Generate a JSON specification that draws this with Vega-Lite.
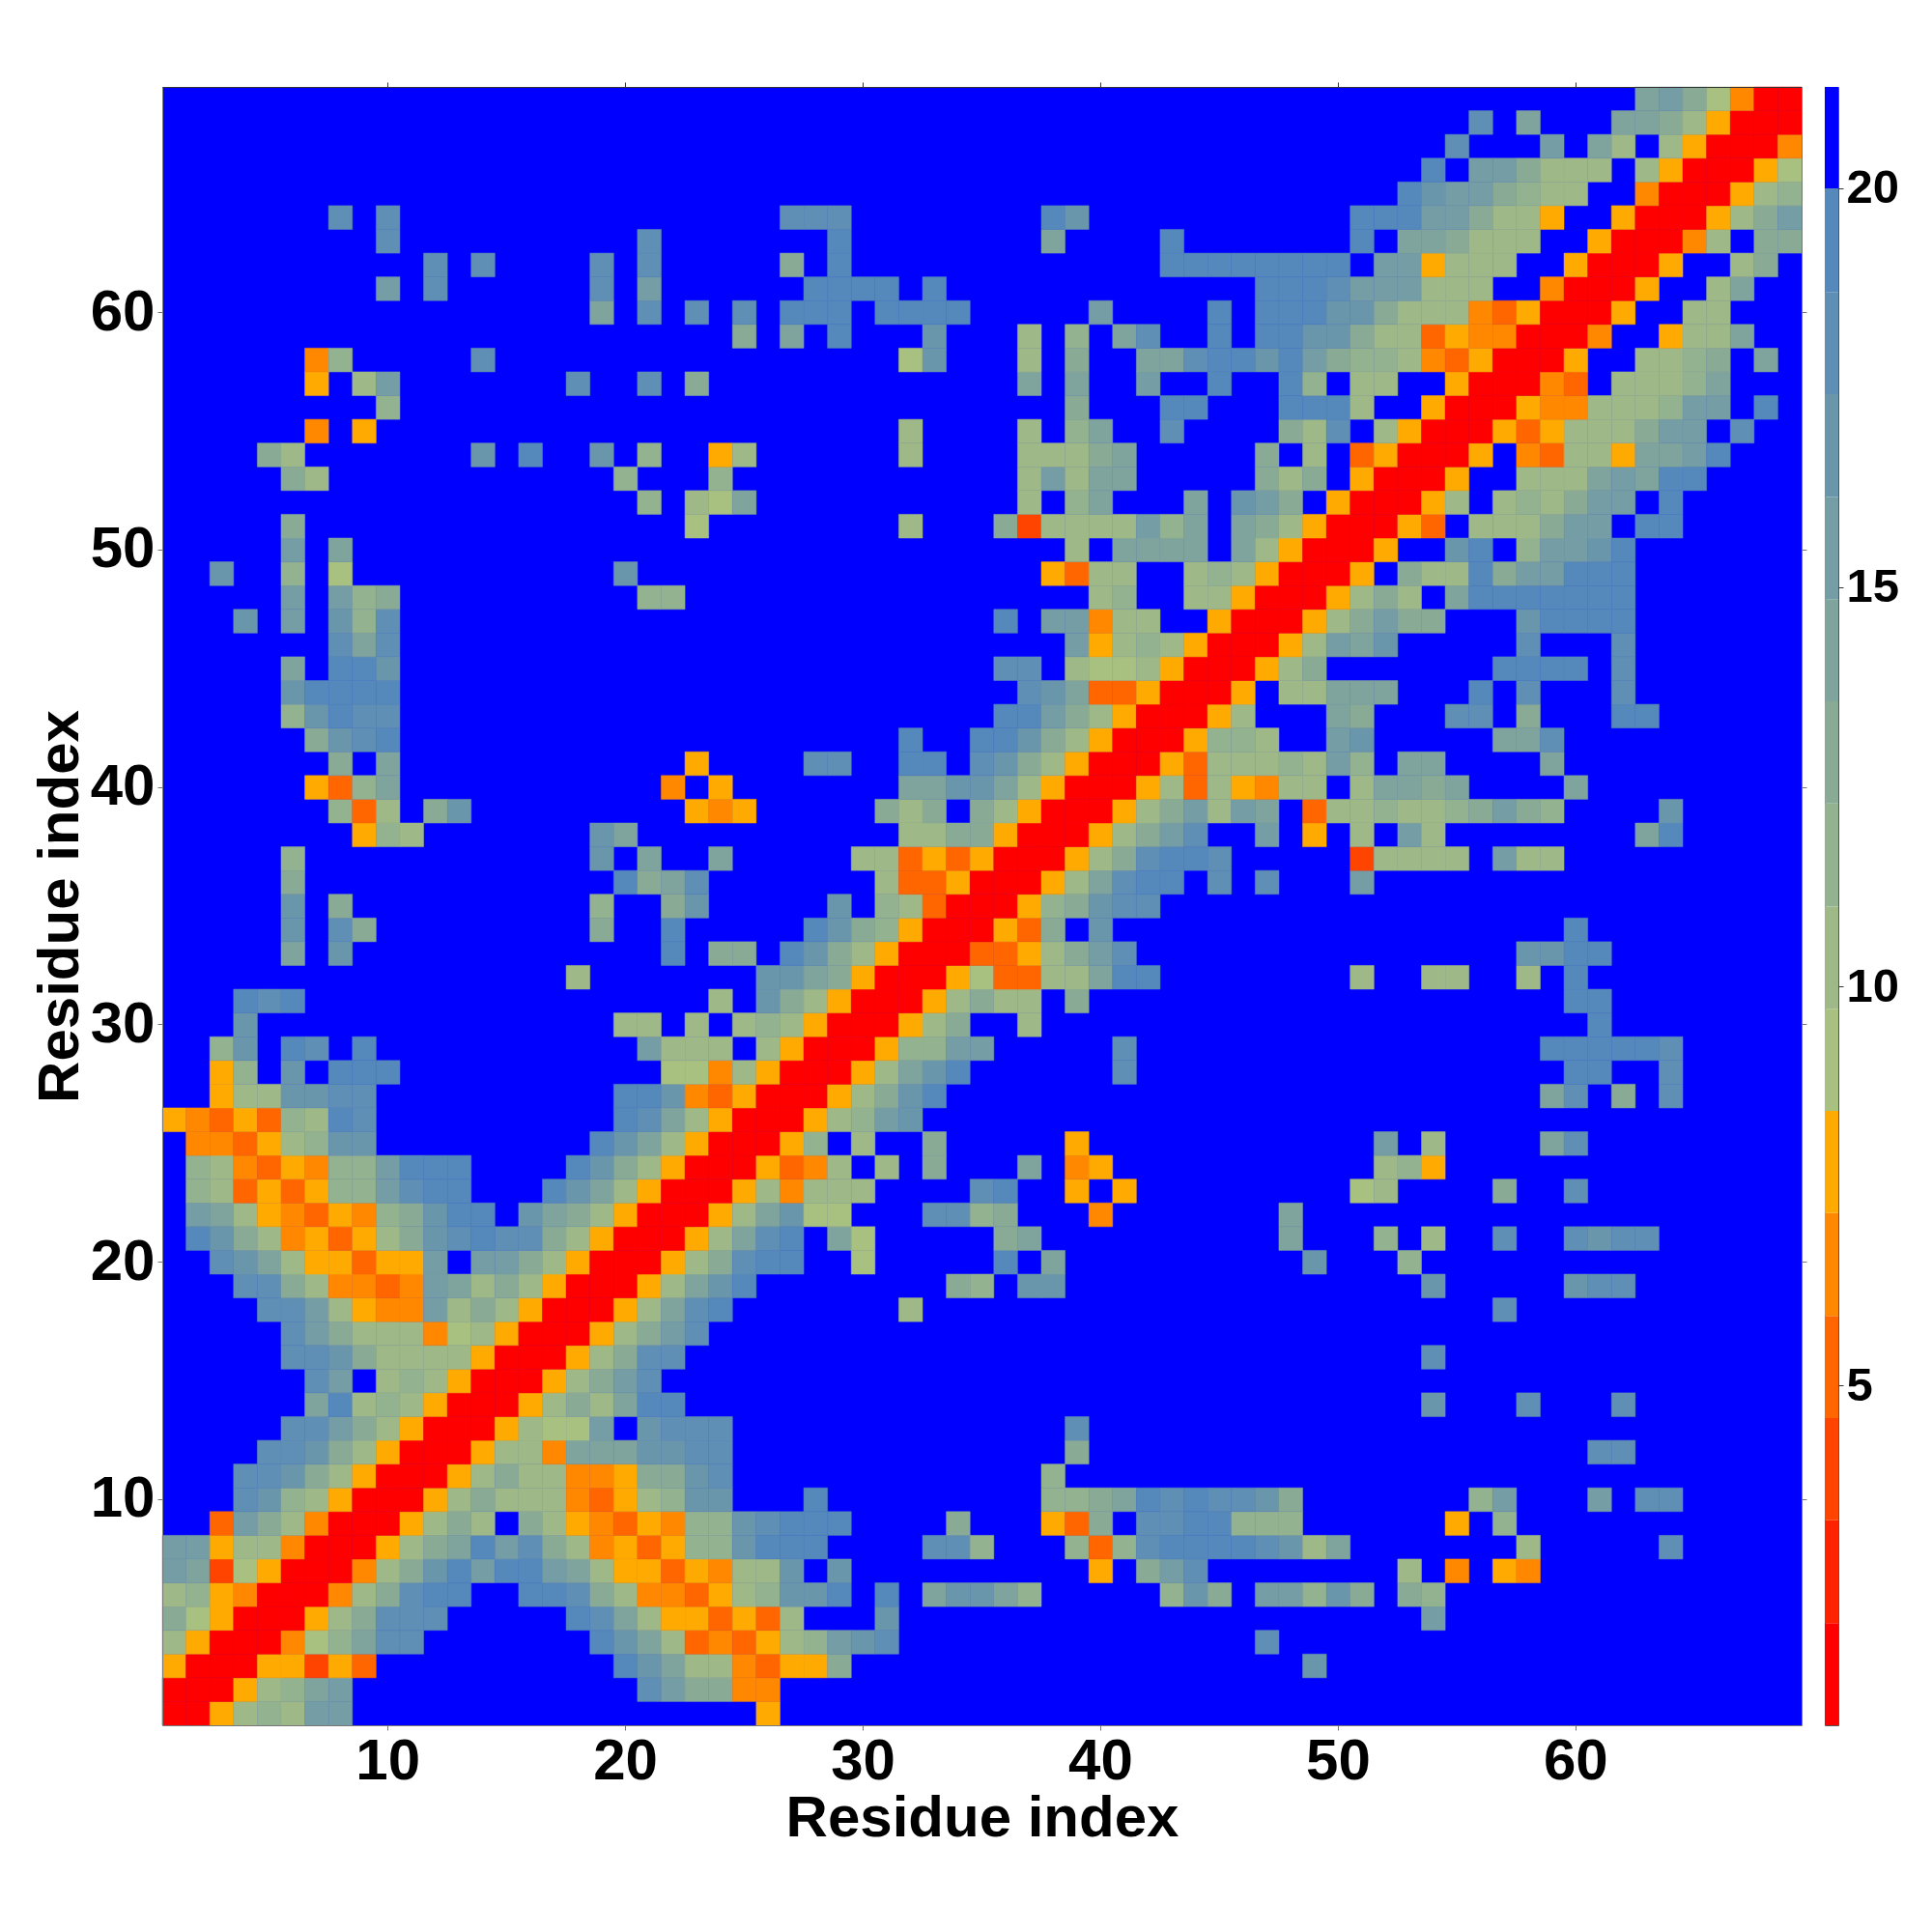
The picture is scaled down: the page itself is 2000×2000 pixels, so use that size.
{"$schema":"https://vega.github.io/schema/vega-lite/v6.json","padding":{"left":32,"top":84,"right":0,"bottom":0},"background":"white","bounds":"flush","spacing":24,"config":{"view":{"stroke":null},"axis":{"labelFont":"Liberation Sans","titleFont":"Liberation Sans","labelFontWeight":"bold","titleFontWeight":"bold","labelColor":"black","titleColor":"black","grid":false}},
"datasets":{"cells":[
{"i":1,"j":1,"d":1.4},{"i":2,"j":1,"d":1.4},{"i":3,"j":1,"d":7.8},{"i":4,"j":1,"d":10.4},{"i":5,"j":1,"d":11.6},{"i":6,"j":1,"d":10.4},{"i":7,"j":1,"d":15.5},{"i":8,"j":1,"d":15.5},{"i":26,"j":1,"d":7.8},
{"i":1,"j":2,"d":1.4},{"i":2,"j":2,"d":1.4},{"i":3,"j":2,"d":1.4},{"i":4,"j":2,"d":7.8},{"i":5,"j":2,"d":10.4},{"i":6,"j":2,"d":11.6},{"i":7,"j":2,"d":14.2},{"i":8,"j":2,"d":15.5},{"i":21,"j":2,"d":18},{"i":22,"j":2,"d":15.5},{"i":23,"j":2,"d":12.9},{"i":24,"j":2,"d":12.9},{"i":25,"j":2,"d":6.5},{"i":26,"j":2,"d":6.5},
{"i":1,"j":3,"d":7.8},{"i":2,"j":3,"d":1.4},{"i":3,"j":3,"d":1.4},{"i":4,"j":3,"d":1.4},{"i":5,"j":3,"d":7.8},{"i":6,"j":3,"d":7.8},{"i":7,"j":3,"d":4},{"i":8,"j":3,"d":7.8},{"i":9,"j":3,"d":5.2},{"i":20,"j":3,"d":19.3},{"i":21,"j":3,"d":16.8},{"i":22,"j":3,"d":14.2},{"i":23,"j":3,"d":10.4},{"i":24,"j":3,"d":10.4},{"i":25,"j":3,"d":6.5},{"i":26,"j":3,"d":5.2},{"i":27,"j":3,"d":7.8},{"i":28,"j":3,"d":7.8},{"i":29,"j":3,"d":12.9},{"i":49,"j":3,"d":16.8},
{"i":1,"j":4,"d":10.4},{"i":2,"j":4,"d":7.8},{"i":3,"j":4,"d":1.4},{"i":4,"j":4,"d":1.4},{"i":5,"j":4,"d":1.4},{"i":6,"j":4,"d":6.5},{"i":7,"j":4,"d":9.1},{"i":8,"j":4,"d":11.6},{"i":9,"j":4,"d":14.2},{"i":10,"j":4,"d":18},{"i":11,"j":4,"d":18},{"i":19,"j":4,"d":19.3},{"i":20,"j":4,"d":16.8},{"i":21,"j":4,"d":14.2},{"i":22,"j":4,"d":10.4},{"i":23,"j":4,"d":5.2},{"i":24,"j":4,"d":6.5},{"i":25,"j":4,"d":5.2},{"i":26,"j":4,"d":7.8},{"i":27,"j":4,"d":10.4},{"i":28,"j":4,"d":11.6},{"i":29,"j":4,"d":15.5},{"i":30,"j":4,"d":16.8},{"i":31,"j":4,"d":18},{"i":47,"j":4,"d":18},
{"i":1,"j":5,"d":12.9},{"i":2,"j":5,"d":9.1},{"i":3,"j":5,"d":7.8},{"i":4,"j":5,"d":1.4},{"i":5,"j":5,"d":1.4},{"i":6,"j":5,"d":1.4},{"i":7,"j":5,"d":7.8},{"i":8,"j":5,"d":10.4},{"i":9,"j":5,"d":12.9},{"i":10,"j":5,"d":18},{"i":11,"j":5,"d":18},{"i":12,"j":5,"d":18},{"i":18,"j":5,"d":19.3},{"i":19,"j":5,"d":18},{"i":20,"j":5,"d":14.2},{"i":21,"j":5,"d":10.4},{"i":22,"j":5,"d":7.8},{"i":23,"j":5,"d":7.8},{"i":24,"j":5,"d":5.2},{"i":25,"j":5,"d":7.8},{"i":26,"j":5,"d":5.2},{"i":27,"j":5,"d":10.4},{"i":31,"j":5,"d":16.8},{"i":54,"j":5,"d":15.5},
{"i":1,"j":6,"d":10.4},{"i":2,"j":6,"d":11.6},{"i":3,"j":6,"d":7.8},{"i":4,"j":6,"d":6.5},{"i":5,"j":6,"d":1.4},{"i":6,"j":6,"d":1.4},{"i":7,"j":6,"d":1.4},{"i":8,"j":6,"d":6.5},{"i":9,"j":6,"d":10.4},{"i":10,"j":6,"d":12.9},{"i":11,"j":6,"d":18},{"i":12,"j":6,"d":19.3},{"i":13,"j":6,"d":19.3},{"i":16,"j":6,"d":19.3},{"i":17,"j":6,"d":19.3},{"i":18,"j":6,"d":18},{"i":19,"j":6,"d":12.9},{"i":20,"j":6,"d":10.4},{"i":21,"j":6,"d":6.5},{"i":22,"j":6,"d":6.5},{"i":23,"j":6,"d":5.2},{"i":24,"j":6,"d":7.8},{"i":25,"j":6,"d":10.4},{"i":26,"j":6,"d":11.6},{"i":27,"j":6,"d":16.8},{"i":28,"j":6,"d":16.8},{"i":29,"j":6,"d":19.3},{"i":31,"j":6,"d":19.3},{"i":33,"j":6,"d":14.2},{"i":34,"j":6,"d":16.8},{"i":35,"j":6,"d":16.8},{"i":36,"j":6,"d":14.2},{"i":37,"j":6,"d":11.6},{"i":43,"j":6,"d":11.6},{"i":44,"j":6,"d":16.8},{"i":45,"j":6,"d":12.9},{"i":47,"j":6,"d":15.5},{"i":48,"j":6,"d":15.5},{"i":49,"j":6,"d":11.6},{"i":50,"j":6,"d":16.8},{"i":51,"j":6,"d":12.9},{"i":53,"j":6,"d":12.9},{"i":54,"j":6,"d":11.6},
{"i":1,"j":7,"d":15.5},{"i":2,"j":7,"d":14.2},{"i":3,"j":7,"d":4},{"i":4,"j":7,"d":9.1},{"i":5,"j":7,"d":7.8},{"i":6,"j":7,"d":1.4},{"i":7,"j":7,"d":1.4},{"i":8,"j":7,"d":1.4},{"i":9,"j":7,"d":6.5},{"i":10,"j":7,"d":10.4},{"i":11,"j":7,"d":12.9},{"i":12,"j":7,"d":16.8},{"i":13,"j":7,"d":19.3},{"i":14,"j":7,"d":15.5},{"i":15,"j":7,"d":19.3},{"i":16,"j":7,"d":19.3},{"i":17,"j":7,"d":15.5},{"i":18,"j":7,"d":14.2},{"i":19,"j":7,"d":10.4},{"i":20,"j":7,"d":7.8},{"i":21,"j":7,"d":7.8},{"i":22,"j":7,"d":5.2},{"i":23,"j":7,"d":7.8},{"i":24,"j":7,"d":6.5},{"i":25,"j":7,"d":10.4},{"i":26,"j":7,"d":10.4},{"i":27,"j":7,"d":16.8},{"i":29,"j":7,"d":16.8},{"i":40,"j":7,"d":7.8},{"i":42,"j":7,"d":12.9},{"i":43,"j":7,"d":15.5},{"i":44,"j":7,"d":18},{"i":53,"j":7,"d":10.4},{"i":55,"j":7,"d":6.5},{"i":57,"j":7,"d":7.8},{"i":58,"j":7,"d":6.5},
{"i":1,"j":8,"d":15.5},{"i":2,"j":8,"d":15.5},{"i":3,"j":8,"d":7.8},{"i":4,"j":8,"d":10.4},{"i":5,"j":8,"d":10.4},{"i":6,"j":8,"d":6.5},{"i":7,"j":8,"d":1.4},{"i":8,"j":8,"d":1.4},{"i":9,"j":8,"d":1.4},{"i":10,"j":8,"d":7.8},{"i":11,"j":8,"d":10.4},{"i":12,"j":8,"d":12.9},{"i":13,"j":8,"d":14.2},{"i":14,"j":8,"d":19.3},{"i":15,"j":8,"d":15.5},{"i":16,"j":8,"d":18},{"i":17,"j":8,"d":12.9},{"i":18,"j":8,"d":10.4},{"i":19,"j":8,"d":6.5},{"i":20,"j":8,"d":7.8},{"i":21,"j":8,"d":5.2},{"i":22,"j":8,"d":7.8},{"i":23,"j":8,"d":11.6},{"i":24,"j":8,"d":11.6},{"i":25,"j":8,"d":16.8},{"i":26,"j":8,"d":19.3},{"i":27,"j":8,"d":19.3},{"i":28,"j":8,"d":19.3},{"i":33,"j":8,"d":18},{"i":34,"j":8,"d":18},{"i":35,"j":8,"d":11.6},{"i":39,"j":8,"d":11.6},{"i":40,"j":8,"d":5.2},{"i":41,"j":8,"d":11.6},{"i":42,"j":8,"d":18},{"i":43,"j":8,"d":19.3},{"i":44,"j":8,"d":19.3},{"i":45,"j":8,"d":19.3},{"i":46,"j":8,"d":19.3},{"i":47,"j":8,"d":18},{"i":48,"j":8,"d":16.8},{"i":49,"j":8,"d":10.4},{"i":50,"j":8,"d":14.2},{"i":58,"j":8,"d":10.4},{"i":64,"j":8,"d":18},
{"i":3,"j":9,"d":5.2},{"i":4,"j":9,"d":15.5},{"i":5,"j":9,"d":12.9},{"i":6,"j":9,"d":10.4},{"i":7,"j":9,"d":6.5},{"i":8,"j":9,"d":1.4},{"i":9,"j":9,"d":1.4},{"i":10,"j":9,"d":1.4},{"i":11,"j":9,"d":7.8},{"i":12,"j":9,"d":10.4},{"i":13,"j":9,"d":12.9},{"i":14,"j":9,"d":10.4},{"i":16,"j":9,"d":12.9},{"i":17,"j":9,"d":10.4},{"i":18,"j":9,"d":7.8},{"i":19,"j":9,"d":6.5},{"i":20,"j":9,"d":5.2},{"i":21,"j":9,"d":7.8},{"i":22,"j":9,"d":6.5},{"i":23,"j":9,"d":11.6},{"i":24,"j":9,"d":11.6},{"i":25,"j":9,"d":16.8},{"i":26,"j":9,"d":18},{"i":27,"j":9,"d":19.3},{"i":28,"j":9,"d":19.3},{"i":29,"j":9,"d":19.3},{"i":34,"j":9,"d":12.9},{"i":38,"j":9,"d":7.8},{"i":39,"j":9,"d":5.2},{"i":40,"j":9,"d":12.9},{"i":42,"j":9,"d":18},{"i":43,"j":9,"d":18},{"i":44,"j":9,"d":19.3},{"i":45,"j":9,"d":19.3},{"i":46,"j":9,"d":11.6},{"i":47,"j":9,"d":11.6},{"i":48,"j":9,"d":11.6},{"i":55,"j":9,"d":7.8},{"i":57,"j":9,"d":11.6},
{"i":4,"j":10,"d":18},{"i":5,"j":10,"d":16.8},{"i":6,"j":10,"d":11.6},{"i":7,"j":10,"d":10.4},{"i":8,"j":10,"d":7.8},{"i":9,"j":10,"d":1.4},{"i":10,"j":10,"d":1.4},{"i":11,"j":10,"d":1.4},{"i":12,"j":10,"d":7.8},{"i":13,"j":10,"d":10.4},{"i":14,"j":10,"d":12.9},{"i":15,"j":10,"d":10.4},{"i":16,"j":10,"d":10.4},{"i":17,"j":10,"d":10.4},{"i":18,"j":10,"d":6.5},{"i":19,"j":10,"d":5.2},{"i":20,"j":10,"d":7.8},{"i":21,"j":10,"d":10.4},{"i":22,"j":10,"d":11.6},{"i":23,"j":10,"d":16.8},{"i":24,"j":10,"d":16.8},{"i":28,"j":10,"d":19.3},{"i":38,"j":10,"d":11.6},{"i":39,"j":10,"d":11.6},{"i":40,"j":10,"d":12.9},{"i":41,"j":10,"d":14.2},{"i":42,"j":10,"d":19.3},{"i":43,"j":10,"d":18},{"i":44,"j":10,"d":19.3},{"i":45,"j":10,"d":18},{"i":46,"j":10,"d":18},{"i":47,"j":10,"d":16.8},{"i":48,"j":10,"d":12.9},{"i":56,"j":10,"d":11.6},{"i":57,"j":10,"d":15.5},{"i":61,"j":10,"d":15.5},{"i":63,"j":10,"d":18},{"i":64,"j":10,"d":18},
{"i":4,"j":11,"d":18},{"i":5,"j":11,"d":18},{"i":6,"j":11,"d":16.8},{"i":7,"j":11,"d":12.9},{"i":8,"j":11,"d":10.4},{"i":9,"j":11,"d":7.8},{"i":10,"j":11,"d":1.4},{"i":11,"j":11,"d":1.4},{"i":12,"j":11,"d":1.4},{"i":13,"j":11,"d":7.8},{"i":14,"j":11,"d":10.4},{"i":15,"j":11,"d":12.9},{"i":16,"j":11,"d":10.4},{"i":17,"j":11,"d":10.4},{"i":18,"j":11,"d":6.5},{"i":19,"j":11,"d":6.5},{"i":20,"j":11,"d":7.8},{"i":21,"j":11,"d":12.9},{"i":22,"j":11,"d":12.9},{"i":23,"j":11,"d":16.8},{"i":24,"j":11,"d":18},{"i":38,"j":11,"d":11.6},
{"i":5,"j":12,"d":18},{"i":6,"j":12,"d":18},{"i":7,"j":12,"d":16.8},{"i":8,"j":12,"d":12.9},{"i":9,"j":12,"d":10.4},{"i":10,"j":12,"d":7.8},{"i":11,"j":12,"d":1.4},{"i":12,"j":12,"d":1.4},{"i":13,"j":12,"d":1.4},{"i":14,"j":12,"d":7.8},{"i":15,"j":12,"d":10.4},{"i":16,"j":12,"d":10.4},{"i":17,"j":12,"d":6.5},{"i":18,"j":12,"d":14.2},{"i":19,"j":12,"d":14.2},{"i":20,"j":12,"d":14.2},{"i":21,"j":12,"d":16.8},{"i":22,"j":12,"d":16.8},{"i":23,"j":12,"d":18},{"i":24,"j":12,"d":18},{"i":39,"j":12,"d":12.9},{"i":61,"j":12,"d":18},{"i":62,"j":12,"d":18},
{"i":6,"j":13,"d":18},{"i":7,"j":13,"d":18},{"i":8,"j":13,"d":15.5},{"i":9,"j":13,"d":12.9},{"i":10,"j":13,"d":10.4},{"i":11,"j":13,"d":7.8},{"i":12,"j":13,"d":1.4},{"i":13,"j":13,"d":1.4},{"i":14,"j":13,"d":1.4},{"i":15,"j":13,"d":7.8},{"i":16,"j":13,"d":10.4},{"i":17,"j":13,"d":9.1},{"i":18,"j":13,"d":9.1},{"i":19,"j":13,"d":15.5},{"i":21,"j":13,"d":16.8},{"i":22,"j":13,"d":18},{"i":23,"j":13,"d":18},{"i":24,"j":13,"d":18},{"i":39,"j":13,"d":18},
{"i":7,"j":14,"d":14.2},{"i":8,"j":14,"d":19.3},{"i":9,"j":14,"d":10.4},{"i":10,"j":14,"d":11.6},{"i":11,"j":14,"d":10.4},{"i":12,"j":14,"d":7.8},{"i":13,"j":14,"d":1.4},{"i":14,"j":14,"d":1.4},{"i":15,"j":14,"d":1.4},{"i":16,"j":14,"d":7.8},{"i":17,"j":14,"d":10.4},{"i":18,"j":14,"d":12.9},{"i":19,"j":14,"d":10.4},{"i":20,"j":14,"d":14.2},{"i":21,"j":14,"d":19.3},{"i":22,"j":14,"d":19.3},{"i":54,"j":14,"d":16.8},{"i":58,"j":14,"d":18},{"i":62,"j":14,"d":18},
{"i":7,"j":15,"d":18},{"i":8,"j":15,"d":15.5},{"i":10,"j":15,"d":10.4},{"i":11,"j":15,"d":11.6},{"i":12,"j":15,"d":10.4},{"i":13,"j":15,"d":7.8},{"i":14,"j":15,"d":1.4},{"i":15,"j":15,"d":1.4},{"i":16,"j":15,"d":1.4},{"i":17,"j":15,"d":7.8},{"i":18,"j":15,"d":10.4},{"i":19,"j":15,"d":12.9},{"i":20,"j":15,"d":15.5},{"i":21,"j":15,"d":18},
{"i":6,"j":16,"d":18},{"i":7,"j":16,"d":18},{"i":8,"j":16,"d":16.8},{"i":9,"j":16,"d":12.9},{"i":10,"j":16,"d":10.4},{"i":11,"j":16,"d":10.4},{"i":12,"j":16,"d":10.4},{"i":13,"j":16,"d":10.4},{"i":14,"j":16,"d":7.8},{"i":15,"j":16,"d":1.4},{"i":16,"j":16,"d":1.4},{"i":17,"j":16,"d":1.4},{"i":18,"j":16,"d":7.8},{"i":19,"j":16,"d":10.4},{"i":20,"j":16,"d":12.9},{"i":21,"j":16,"d":18},{"i":22,"j":16,"d":18},{"i":54,"j":16,"d":18},
{"i":6,"j":17,"d":18},{"i":7,"j":17,"d":15.5},{"i":8,"j":17,"d":12.9},{"i":9,"j":17,"d":10.4},{"i":10,"j":17,"d":10.4},{"i":11,"j":17,"d":10.4},{"i":12,"j":17,"d":6.5},{"i":13,"j":17,"d":9.1},{"i":14,"j":17,"d":10.4},{"i":15,"j":17,"d":7.8},{"i":16,"j":17,"d":1.4},{"i":17,"j":17,"d":1.4},{"i":18,"j":17,"d":1.4},{"i":19,"j":17,"d":7.8},{"i":20,"j":17,"d":10.4},{"i":21,"j":17,"d":12.9},{"i":22,"j":17,"d":15.5},{"i":23,"j":17,"d":18},
{"i":5,"j":18,"d":18},{"i":6,"j":18,"d":18},{"i":7,"j":18,"d":15.5},{"i":8,"j":18,"d":10.4},{"i":9,"j":18,"d":7.8},{"i":10,"j":18,"d":6.5},{"i":11,"j":18,"d":6.5},{"i":12,"j":18,"d":15.5},{"i":13,"j":18,"d":10.4},{"i":14,"j":18,"d":12.9},{"i":15,"j":18,"d":10.4},{"i":16,"j":18,"d":7.8},{"i":17,"j":18,"d":1.4},{"i":18,"j":18,"d":1.4},{"i":19,"j":18,"d":1.4},{"i":20,"j":18,"d":7.8},{"i":21,"j":18,"d":10.4},{"i":22,"j":18,"d":14.2},{"i":23,"j":18,"d":18},{"i":24,"j":18,"d":19.3},{"i":32,"j":18,"d":10.4},{"i":57,"j":18,"d":18},
{"i":4,"j":19,"d":18},{"i":5,"j":19,"d":18},{"i":6,"j":19,"d":12.9},{"i":7,"j":19,"d":10.4},{"i":8,"j":19,"d":6.5},{"i":9,"j":19,"d":6.5},{"i":10,"j":19,"d":5.2},{"i":11,"j":19,"d":6.5},{"i":12,"j":19,"d":15.5},{"i":13,"j":19,"d":14.2},{"i":14,"j":19,"d":10.4},{"i":15,"j":19,"d":12.9},{"i":16,"j":19,"d":10.4},{"i":17,"j":19,"d":7.8},{"i":18,"j":19,"d":1.4},{"i":19,"j":19,"d":1.4},{"i":20,"j":19,"d":1.4},{"i":21,"j":19,"d":7.8},{"i":22,"j":19,"d":10.4},{"i":23,"j":19,"d":14.2},{"i":24,"j":19,"d":16.8},{"i":25,"j":19,"d":19.3},{"i":34,"j":19,"d":12.9},{"i":35,"j":19,"d":11.6},{"i":37,"j":19,"d":16.8},{"i":38,"j":19,"d":16.8},{"i":54,"j":19,"d":16.8},{"i":60,"j":19,"d":16.8},{"i":61,"j":19,"d":18},{"i":62,"j":19,"d":18},
{"i":3,"j":20,"d":18},{"i":4,"j":20,"d":16.8},{"i":5,"j":20,"d":14.2},{"i":6,"j":20,"d":10.4},{"i":7,"j":20,"d":7.8},{"i":8,"j":20,"d":7.8},{"i":9,"j":20,"d":5.2},{"i":10,"j":20,"d":7.8},{"i":11,"j":20,"d":7.8},{"i":12,"j":20,"d":15.5},{"i":14,"j":20,"d":15.5},{"i":15,"j":20,"d":15.5},{"i":16,"j":20,"d":12.9},{"i":17,"j":20,"d":10.4},{"i":18,"j":20,"d":7.8},{"i":19,"j":20,"d":1.4},{"i":20,"j":20,"d":1.4},{"i":21,"j":20,"d":1.4},{"i":22,"j":20,"d":7.8},{"i":23,"j":20,"d":10.4},{"i":24,"j":20,"d":12.9},{"i":25,"j":20,"d":18},{"i":26,"j":20,"d":19.3},{"i":27,"j":20,"d":19.3},{"i":30,"j":20,"d":9.1},{"i":36,"j":20,"d":19.3},{"i":38,"j":20,"d":14.2},{"i":49,"j":20,"d":16.8},{"i":53,"j":20,"d":11.6},
{"i":2,"j":21,"d":19.3},{"i":3,"j":21,"d":16.8},{"i":4,"j":21,"d":12.9},{"i":5,"j":21,"d":10.4},{"i":6,"j":21,"d":6.5},{"i":7,"j":21,"d":7.8},{"i":8,"j":21,"d":5.2},{"i":9,"j":21,"d":7.8},{"i":10,"j":21,"d":10.4},{"i":11,"j":21,"d":12.9},{"i":12,"j":21,"d":16.8},{"i":13,"j":21,"d":18},{"i":14,"j":21,"d":19.3},{"i":15,"j":21,"d":18},{"i":16,"j":21,"d":18},{"i":17,"j":21,"d":12.9},{"i":18,"j":21,"d":10.4},{"i":19,"j":21,"d":7.8},{"i":20,"j":21,"d":1.4},{"i":21,"j":21,"d":1.4},{"i":22,"j":21,"d":1.4},{"i":23,"j":21,"d":7.8},{"i":24,"j":21,"d":10.4},{"i":25,"j":21,"d":14.2},{"i":26,"j":21,"d":18},{"i":27,"j":21,"d":19.3},{"i":29,"j":21,"d":14.2},{"i":30,"j":21,"d":9.1},{"i":36,"j":21,"d":12.9},{"i":37,"j":21,"d":14.2},{"i":48,"j":21,"d":14.2},{"i":52,"j":21,"d":11.6},{"i":54,"j":21,"d":10.4},{"i":57,"j":21,"d":18},{"i":60,"j":21,"d":18},{"i":61,"j":21,"d":16.8},{"i":62,"j":21,"d":18},{"i":63,"j":21,"d":18},
{"i":2,"j":22,"d":15.5},{"i":3,"j":22,"d":14.2},{"i":4,"j":22,"d":10.4},{"i":5,"j":22,"d":7.8},{"i":6,"j":22,"d":6.5},{"i":7,"j":22,"d":5.2},{"i":8,"j":22,"d":7.8},{"i":9,"j":22,"d":6.5},{"i":10,"j":22,"d":11.6},{"i":11,"j":22,"d":12.9},{"i":12,"j":22,"d":16.8},{"i":13,"j":22,"d":19.3},{"i":14,"j":22,"d":19.3},{"i":16,"j":22,"d":16.8},{"i":17,"j":22,"d":14.2},{"i":18,"j":22,"d":12.9},{"i":19,"j":22,"d":10.4},{"i":20,"j":22,"d":7.8},{"i":21,"j":22,"d":1.4},{"i":22,"j":22,"d":1.4},{"i":23,"j":22,"d":1.4},{"i":24,"j":22,"d":7.8},{"i":25,"j":22,"d":10.4},{"i":26,"j":22,"d":14.2},{"i":27,"j":22,"d":16.8},{"i":28,"j":22,"d":9.1},{"i":29,"j":22,"d":9.1},{"i":33,"j":22,"d":18},{"i":34,"j":22,"d":18},{"i":35,"j":22,"d":11.6},{"i":36,"j":22,"d":12.9},{"i":40,"j":22,"d":6.5},{"i":48,"j":22,"d":14.2},
{"i":2,"j":23,"d":11.6},{"i":3,"j":23,"d":10.4},{"i":4,"j":23,"d":5.2},{"i":5,"j":23,"d":7.8},{"i":6,"j":23,"d":5.2},{"i":7,"j":23,"d":7.8},{"i":8,"j":23,"d":11.6},{"i":9,"j":23,"d":11.6},{"i":10,"j":23,"d":15.5},{"i":11,"j":23,"d":18},{"i":12,"j":23,"d":19.3},{"i":13,"j":23,"d":19.3},{"i":17,"j":23,"d":19.3},{"i":18,"j":23,"d":16.8},{"i":19,"j":23,"d":14.2},{"i":20,"j":23,"d":10.4},{"i":21,"j":23,"d":7.8},{"i":22,"j":23,"d":1.4},{"i":23,"j":23,"d":1.4},{"i":24,"j":23,"d":1.4},{"i":25,"j":23,"d":7.8},{"i":26,"j":23,"d":10.4},{"i":27,"j":23,"d":6.5},{"i":28,"j":23,"d":10.4},{"i":29,"j":23,"d":10.4},{"i":30,"j":23,"d":10.4},{"i":35,"j":23,"d":18},{"i":36,"j":23,"d":19.3},{"i":39,"j":23,"d":7.8},{"i":41,"j":23,"d":7.8},{"i":51,"j":23,"d":9.1},{"i":52,"j":23,"d":10.4},{"i":57,"j":23,"d":12.9},{"i":60,"j":23,"d":18},
{"i":2,"j":24,"d":11.6},{"i":3,"j":24,"d":10.4},{"i":4,"j":24,"d":6.5},{"i":5,"j":24,"d":5.2},{"i":6,"j":24,"d":7.8},{"i":7,"j":24,"d":6.5},{"i":8,"j":24,"d":11.6},{"i":9,"j":24,"d":11.6},{"i":10,"j":24,"d":15.5},{"i":11,"j":24,"d":19.3},{"i":12,"j":24,"d":19.3},{"i":13,"j":24,"d":19.3},{"i":18,"j":24,"d":19.3},{"i":19,"j":24,"d":16.8},{"i":20,"j":24,"d":12.9},{"i":21,"j":24,"d":10.4},{"i":22,"j":24,"d":7.8},{"i":23,"j":24,"d":1.4},{"i":24,"j":24,"d":1.4},{"i":25,"j":24,"d":1.4},{"i":26,"j":24,"d":7.8},{"i":27,"j":24,"d":5.2},{"i":28,"j":24,"d":6.5},{"i":29,"j":24,"d":10.4},{"i":31,"j":24,"d":10.4},{"i":33,"j":24,"d":12.9},{"i":37,"j":24,"d":14.2},{"i":39,"j":24,"d":6.5},{"i":40,"j":24,"d":7.8},{"i":52,"j":24,"d":10.4},{"i":53,"j":24,"d":11.6},{"i":54,"j":24,"d":7.8},
{"i":2,"j":25,"d":6.5},{"i":3,"j":25,"d":6.5},{"i":4,"j":25,"d":5.2},{"i":5,"j":25,"d":7.8},{"i":6,"j":25,"d":10.4},{"i":7,"j":25,"d":11.6},{"i":8,"j":25,"d":16.8},{"i":9,"j":25,"d":16.8},{"i":19,"j":25,"d":19.3},{"i":20,"j":25,"d":16.8},{"i":21,"j":25,"d":14.2},{"i":22,"j":25,"d":10.4},{"i":23,"j":25,"d":7.8},{"i":24,"j":25,"d":1.4},{"i":25,"j":25,"d":1.4},{"i":26,"j":25,"d":1.4},{"i":27,"j":25,"d":7.8},{"i":28,"j":25,"d":11.6},{"i":30,"j":25,"d":10.4},{"i":33,"j":25,"d":12.9},{"i":39,"j":25,"d":7.8},{"i":52,"j":25,"d":15.5},{"i":54,"j":25,"d":10.4},{"i":59,"j":25,"d":14.2},{"i":60,"j":25,"d":18},
{"i":1,"j":26,"d":7.8},{"i":2,"j":26,"d":6.5},{"i":3,"j":26,"d":5.2},{"i":4,"j":26,"d":7.8},{"i":5,"j":26,"d":5.2},{"i":6,"j":26,"d":11.6},{"i":7,"j":26,"d":10.4},{"i":8,"j":26,"d":19.3},{"i":9,"j":26,"d":18},{"i":20,"j":26,"d":19.3},{"i":21,"j":26,"d":18},{"i":22,"j":26,"d":14.2},{"i":23,"j":26,"d":10.4},{"i":24,"j":26,"d":7.8},{"i":25,"j":26,"d":1.4},{"i":26,"j":26,"d":1.4},{"i":27,"j":26,"d":1.4},{"i":28,"j":26,"d":7.8},{"i":29,"j":26,"d":10.4},{"i":30,"j":26,"d":11.6},{"i":31,"j":26,"d":15.5},{"i":32,"j":26,"d":16.8},
{"i":3,"j":27,"d":7.8},{"i":4,"j":27,"d":10.4},{"i":5,"j":27,"d":10.4},{"i":6,"j":27,"d":16.8},{"i":7,"j":27,"d":16.8},{"i":8,"j":27,"d":18},{"i":9,"j":27,"d":18},{"i":20,"j":27,"d":19.3},{"i":21,"j":27,"d":19.3},{"i":22,"j":27,"d":16.8},{"i":23,"j":27,"d":6.5},{"i":24,"j":27,"d":5.2},{"i":25,"j":27,"d":7.8},{"i":26,"j":27,"d":1.4},{"i":27,"j":27,"d":1.4},{"i":28,"j":27,"d":1.4},{"i":29,"j":27,"d":7.8},{"i":30,"j":27,"d":10.4},{"i":31,"j":27,"d":12.9},{"i":32,"j":27,"d":16.8},{"i":33,"j":27,"d":19.3},{"i":59,"j":27,"d":14.2},{"i":60,"j":27,"d":18},{"i":62,"j":27,"d":12.9},{"i":64,"j":27,"d":18},
{"i":3,"j":28,"d":7.8},{"i":4,"j":28,"d":11.6},{"i":6,"j":28,"d":16.8},{"i":8,"j":28,"d":19.3},{"i":9,"j":28,"d":19.3},{"i":10,"j":28,"d":19.3},{"i":22,"j":28,"d":9.1},{"i":23,"j":28,"d":9.1},{"i":24,"j":28,"d":6.5},{"i":25,"j":28,"d":10.4},{"i":26,"j":28,"d":7.8},{"i":27,"j":28,"d":1.4},{"i":28,"j":28,"d":1.4},{"i":29,"j":28,"d":1.4},{"i":30,"j":28,"d":7.8},{"i":31,"j":28,"d":10.4},{"i":32,"j":28,"d":14.2},{"i":33,"j":28,"d":16.8},{"i":34,"j":28,"d":19.3},{"i":41,"j":28,"d":18},{"i":60,"j":28,"d":19.3},{"i":61,"j":28,"d":19.3},{"i":64,"j":28,"d":18},
{"i":3,"j":29,"d":11.6},{"i":4,"j":29,"d":16.8},{"i":6,"j":29,"d":19.3},{"i":7,"j":29,"d":18},{"i":9,"j":29,"d":19.3},{"i":21,"j":29,"d":15.5},{"i":22,"j":29,"d":10.4},{"i":23,"j":29,"d":10.4},{"i":24,"j":29,"d":10.4},{"i":26,"j":29,"d":10.4},{"i":27,"j":29,"d":7.8},{"i":28,"j":29,"d":1.4},{"i":29,"j":29,"d":1.4},{"i":30,"j":29,"d":1.4},{"i":31,"j":29,"d":7.8},{"i":32,"j":29,"d":11.6},{"i":33,"j":29,"d":11.6},{"i":34,"j":29,"d":15.5},{"i":35,"j":29,"d":15.5},{"i":41,"j":29,"d":18},{"i":59,"j":29,"d":19.3},{"i":60,"j":29,"d":19.3},{"i":61,"j":29,"d":19.3},{"i":62,"j":29,"d":19.3},{"i":63,"j":29,"d":19.3},{"i":64,"j":29,"d":18},
{"i":4,"j":30,"d":16.8},{"i":20,"j":30,"d":10.4},{"i":21,"j":30,"d":10.4},{"i":23,"j":30,"d":10.4},{"i":25,"j":30,"d":10.4},{"i":26,"j":30,"d":11.6},{"i":27,"j":30,"d":10.4},{"i":28,"j":30,"d":7.8},{"i":29,"j":30,"d":1.4},{"i":30,"j":30,"d":1.4},{"i":31,"j":30,"d":1.4},{"i":32,"j":30,"d":7.8},{"i":33,"j":30,"d":10.4},{"i":34,"j":30,"d":12.9},{"i":37,"j":30,"d":10.4},{"i":61,"j":30,"d":19.3},
{"i":4,"j":31,"d":19.3},{"i":5,"j":31,"d":18},{"i":6,"j":31,"d":19.3},{"i":24,"j":31,"d":10.4},{"i":26,"j":31,"d":16.8},{"i":27,"j":31,"d":12.9},{"i":28,"j":31,"d":10.4},{"i":29,"j":31,"d":7.8},{"i":30,"j":31,"d":1.4},{"i":31,"j":31,"d":1.4},{"i":32,"j":31,"d":1.4},{"i":33,"j":31,"d":7.8},{"i":34,"j":31,"d":10.4},{"i":35,"j":31,"d":12.9},{"i":36,"j":31,"d":10.4},{"i":37,"j":31,"d":10.4},{"i":39,"j":31,"d":12.9},{"i":60,"j":31,"d":19.3},{"i":61,"j":31,"d":19.3},
{"i":18,"j":32,"d":10.4},{"i":26,"j":32,"d":16.8},{"i":27,"j":32,"d":16.8},{"i":28,"j":32,"d":14.2},{"i":29,"j":32,"d":12.9},{"i":30,"j":32,"d":7.8},{"i":31,"j":32,"d":1.4},{"i":32,"j":32,"d":1.4},{"i":33,"j":32,"d":1.4},{"i":34,"j":32,"d":7.8},{"i":35,"j":32,"d":9.1},{"i":36,"j":32,"d":5.2},{"i":37,"j":32,"d":5.2},{"i":38,"j":32,"d":10.4},{"i":39,"j":32,"d":10.4},{"i":40,"j":32,"d":14.2},{"i":41,"j":32,"d":19.3},{"i":42,"j":32,"d":19.3},{"i":51,"j":32,"d":10.4},{"i":54,"j":32,"d":10.4},{"i":55,"j":32,"d":10.4},{"i":58,"j":32,"d":10.4},{"i":60,"j":32,"d":19.3},
{"i":6,"j":33,"d":14.2},{"i":8,"j":33,"d":16.8},{"i":22,"j":33,"d":19.3},{"i":24,"j":33,"d":12.9},{"i":25,"j":33,"d":12.9},{"i":27,"j":33,"d":19.3},{"i":28,"j":33,"d":16.8},{"i":29,"j":33,"d":12.9},{"i":30,"j":33,"d":10.4},{"i":31,"j":33,"d":7.8},{"i":32,"j":33,"d":1.4},{"i":33,"j":33,"d":1.4},{"i":34,"j":33,"d":1.4},{"i":35,"j":33,"d":5.2},{"i":36,"j":33,"d":5.2},{"i":37,"j":33,"d":7.8},{"i":38,"j":33,"d":10.4},{"i":39,"j":33,"d":12.9},{"i":40,"j":33,"d":15.5},{"i":41,"j":33,"d":18},{"i":58,"j":33,"d":16.8},{"i":59,"j":33,"d":16.8},{"i":60,"j":33,"d":19.3},{"i":61,"j":33,"d":19.3},
{"i":6,"j":34,"d":16.8},{"i":8,"j":34,"d":18},{"i":9,"j":34,"d":12.9},{"i":19,"j":34,"d":12.9},{"i":22,"j":34,"d":19.3},{"i":28,"j":34,"d":19.3},{"i":29,"j":34,"d":16.8},{"i":30,"j":34,"d":12.9},{"i":31,"j":34,"d":11.6},{"i":32,"j":34,"d":7.8},{"i":33,"j":34,"d":1.4},{"i":34,"j":34,"d":1.4},{"i":35,"j":34,"d":1.4},{"i":36,"j":34,"d":7.8},{"i":37,"j":34,"d":5.2},{"i":38,"j":34,"d":12.9},{"i":40,"j":34,"d":16.8},{"i":60,"j":34,"d":19.3},
{"i":6,"j":35,"d":16.8},{"i":8,"j":35,"d":12.9},{"i":19,"j":35,"d":11.6},{"i":22,"j":35,"d":12.9},{"i":23,"j":35,"d":16.8},{"i":29,"j":35,"d":16.8},{"i":31,"j":35,"d":11.6},{"i":32,"j":35,"d":10.4},{"i":33,"j":35,"d":5.2},{"i":34,"j":35,"d":1.4},{"i":35,"j":35,"d":1.4},{"i":36,"j":35,"d":1.4},{"i":37,"j":35,"d":7.8},{"i":38,"j":35,"d":11.6},{"i":39,"j":35,"d":12.9},{"i":40,"j":35,"d":16.8},{"i":41,"j":35,"d":18},{"i":42,"j":35,"d":18},
{"i":6,"j":36,"d":12.9},{"i":20,"j":36,"d":19.3},{"i":21,"j":36,"d":12.9},{"i":22,"j":36,"d":14.2},{"i":23,"j":36,"d":18},{"i":31,"j":36,"d":10.4},{"i":32,"j":36,"d":5.2},{"i":33,"j":36,"d":5.2},{"i":34,"j":36,"d":7.8},{"i":35,"j":36,"d":1.4},{"i":36,"j":36,"d":1.4},{"i":37,"j":36,"d":1.4},{"i":38,"j":36,"d":7.8},{"i":39,"j":36,"d":10.4},{"i":40,"j":36,"d":14.2},{"i":41,"j":36,"d":18},{"i":42,"j":36,"d":19.3},{"i":43,"j":36,"d":19.3},{"i":45,"j":36,"d":18},{"i":47,"j":36,"d":18},{"i":51,"j":36,"d":15.5},
{"i":6,"j":37,"d":11.6},{"i":19,"j":37,"d":16.8},{"i":21,"j":37,"d":14.2},{"i":24,"j":37,"d":14.2},{"i":30,"j":37,"d":10.4},{"i":31,"j":37,"d":10.4},{"i":32,"j":37,"d":5.2},{"i":33,"j":37,"d":7.8},{"i":34,"j":37,"d":5.2},{"i":35,"j":37,"d":7.8},{"i":36,"j":37,"d":1.4},{"i":37,"j":37,"d":1.4},{"i":38,"j":37,"d":1.4},{"i":39,"j":37,"d":7.8},{"i":40,"j":37,"d":10.4},{"i":41,"j":37,"d":12.9},{"i":42,"j":37,"d":18},{"i":43,"j":37,"d":19.3},{"i":44,"j":37,"d":19.3},{"i":45,"j":37,"d":18},{"i":51,"j":37,"d":4},{"i":52,"j":37,"d":10.4},{"i":53,"j":37,"d":10.4},{"i":54,"j":37,"d":10.4},{"i":55,"j":37,"d":10.4},{"i":57,"j":37,"d":15.5},{"i":58,"j":37,"d":10.4},{"i":59,"j":37,"d":10.4},
{"i":9,"j":38,"d":7.8},{"i":10,"j":38,"d":11.6},{"i":11,"j":38,"d":10.4},{"i":19,"j":38,"d":16.8},{"i":20,"j":38,"d":14.2},{"i":32,"j":38,"d":10.4},{"i":33,"j":38,"d":10.4},{"i":34,"j":38,"d":12.9},{"i":35,"j":38,"d":12.9},{"i":36,"j":38,"d":7.8},{"i":37,"j":38,"d":1.4},{"i":38,"j":38,"d":1.4},{"i":39,"j":38,"d":1.4},{"i":40,"j":38,"d":7.8},{"i":41,"j":38,"d":10.4},{"i":42,"j":38,"d":12.9},{"i":43,"j":38,"d":15.5},{"i":44,"j":38,"d":18},{"i":47,"j":38,"d":15.5},{"i":49,"j":38,"d":7.8},{"i":51,"j":38,"d":10.4},{"i":53,"j":38,"d":15.5},{"i":54,"j":38,"d":10.4},{"i":63,"j":38,"d":14.2},{"i":64,"j":38,"d":19.3},
{"i":8,"j":39,"d":11.6},{"i":9,"j":39,"d":5.2},{"i":10,"j":39,"d":10.4},{"i":12,"j":39,"d":12.9},{"i":13,"j":39,"d":16.8},{"i":23,"j":39,"d":7.8},{"i":24,"j":39,"d":6.5},{"i":25,"j":39,"d":7.8},{"i":31,"j":39,"d":12.9},{"i":32,"j":39,"d":10.4},{"i":33,"j":39,"d":12.9},{"i":35,"j":39,"d":12.9},{"i":36,"j":39,"d":10.4},{"i":37,"j":39,"d":7.8},{"i":38,"j":39,"d":1.4},{"i":39,"j":39,"d":1.4},{"i":40,"j":39,"d":1.4},{"i":41,"j":39,"d":7.8},{"i":42,"j":39,"d":10.4},{"i":43,"j":39,"d":12.9},{"i":44,"j":39,"d":15.5},{"i":45,"j":39,"d":10.4},{"i":46,"j":39,"d":15.5},{"i":47,"j":39,"d":14.2},{"i":49,"j":39,"d":5.2},{"i":50,"j":39,"d":10.4},{"i":51,"j":39,"d":10.4},{"i":52,"j":39,"d":11.6},{"i":53,"j":39,"d":10.4},{"i":54,"j":39,"d":10.4},{"i":55,"j":39,"d":11.6},{"i":56,"j":39,"d":12.9},{"i":57,"j":39,"d":15.5},{"i":58,"j":39,"d":12.9},{"i":59,"j":39,"d":11.6},{"i":64,"j":39,"d":16.8},
{"i":7,"j":40,"d":7.8},{"i":8,"j":40,"d":5.2},{"i":9,"j":40,"d":11.6},{"i":10,"j":40,"d":14.2},{"i":22,"j":40,"d":6.5},{"i":24,"j":40,"d":7.8},{"i":32,"j":40,"d":14.2},{"i":33,"j":40,"d":14.2},{"i":34,"j":40,"d":16.8},{"i":35,"j":40,"d":16.8},{"i":36,"j":40,"d":14.2},{"i":37,"j":40,"d":10.4},{"i":38,"j":40,"d":7.8},{"i":39,"j":40,"d":1.4},{"i":40,"j":40,"d":1.4},{"i":41,"j":40,"d":1.4},{"i":42,"j":40,"d":7.8},{"i":43,"j":40,"d":10.4},{"i":44,"j":40,"d":5.2},{"i":45,"j":40,"d":10.4},{"i":46,"j":40,"d":7.8},{"i":47,"j":40,"d":6.5},{"i":48,"j":40,"d":10.4},{"i":49,"j":40,"d":10.4},{"i":51,"j":40,"d":10.4},{"i":52,"j":40,"d":14.2},{"i":53,"j":40,"d":14.2},{"i":54,"j":40,"d":12.9},{"i":55,"j":40,"d":14.2},{"i":60,"j":40,"d":14.2},
{"i":8,"j":41,"d":12.9},{"i":10,"j":41,"d":14.2},{"i":23,"j":41,"d":7.8},{"i":28,"j":41,"d":18},{"i":29,"j":41,"d":18},{"i":32,"j":41,"d":19.3},{"i":33,"j":41,"d":19.3},{"i":35,"j":41,"d":18},{"i":36,"j":41,"d":16.8},{"i":37,"j":41,"d":12.9},{"i":38,"j":41,"d":10.4},{"i":39,"j":41,"d":7.8},{"i":40,"j":41,"d":1.4},{"i":41,"j":41,"d":1.4},{"i":42,"j":41,"d":1.4},{"i":43,"j":41,"d":7.8},{"i":44,"j":41,"d":5.2},{"i":45,"j":41,"d":10.4},{"i":46,"j":41,"d":10.4},{"i":47,"j":41,"d":10.4},{"i":48,"j":41,"d":11.6},{"i":49,"j":41,"d":10.4},{"i":50,"j":41,"d":15.5},{"i":51,"j":41,"d":11.6},{"i":53,"j":41,"d":14.2},{"i":54,"j":41,"d":14.2},{"i":59,"j":41,"d":14.2},
{"i":7,"j":42,"d":12.9},{"i":8,"j":42,"d":16.8},{"i":9,"j":42,"d":18},{"i":10,"j":42,"d":19.3},{"i":32,"j":42,"d":19.3},{"i":35,"j":42,"d":19.3},{"i":36,"j":42,"d":19.3},{"i":37,"j":42,"d":16.8},{"i":38,"j":42,"d":12.9},{"i":39,"j":42,"d":10.4},{"i":40,"j":42,"d":7.8},{"i":41,"j":42,"d":1.4},{"i":42,"j":42,"d":1.4},{"i":43,"j":42,"d":1.4},{"i":44,"j":42,"d":7.8},{"i":45,"j":42,"d":11.6},{"i":46,"j":42,"d":11.6},{"i":47,"j":42,"d":10.4},{"i":50,"j":42,"d":15.5},{"i":51,"j":42,"d":16.8},{"i":57,"j":42,"d":14.2},{"i":58,"j":42,"d":14.2},{"i":59,"j":42,"d":18},
{"i":6,"j":43,"d":11.6},{"i":7,"j":43,"d":16.8},{"i":8,"j":43,"d":19.3},{"i":9,"j":43,"d":18},{"i":10,"j":43,"d":18},{"i":36,"j":43,"d":19.3},{"i":37,"j":43,"d":19.3},{"i":38,"j":43,"d":15.5},{"i":39,"j":43,"d":12.9},{"i":40,"j":43,"d":10.4},{"i":41,"j":43,"d":7.8},{"i":42,"j":43,"d":1.4},{"i":43,"j":43,"d":1.4},{"i":44,"j":43,"d":1.4},{"i":45,"j":43,"d":7.8},{"i":46,"j":43,"d":10.4},{"i":50,"j":43,"d":14.2},{"i":51,"j":43,"d":12.9},{"i":55,"j":43,"d":18},{"i":56,"j":43,"d":18},{"i":58,"j":43,"d":12.9},{"i":62,"j":43,"d":19.3},{"i":63,"j":43,"d":19.3},
{"i":6,"j":44,"d":16.8},{"i":7,"j":44,"d":19.3},{"i":8,"j":44,"d":19.3},{"i":9,"j":44,"d":19.3},{"i":10,"j":44,"d":19.3},{"i":37,"j":44,"d":18},{"i":38,"j":44,"d":16.8},{"i":39,"j":44,"d":14.2},{"i":40,"j":44,"d":5.2},{"i":41,"j":44,"d":5.2},{"i":42,"j":44,"d":7.8},{"i":43,"j":44,"d":1.4},{"i":44,"j":44,"d":1.4},{"i":45,"j":44,"d":1.4},{"i":46,"j":44,"d":7.8},{"i":48,"j":44,"d":10.4},{"i":49,"j":44,"d":10.4},{"i":50,"j":44,"d":14.2},{"i":51,"j":44,"d":14.2},{"i":52,"j":44,"d":14.2},{"i":56,"j":44,"d":19.3},{"i":58,"j":44,"d":18},{"i":62,"j":44,"d":18},
{"i":6,"j":45,"d":14.2},{"i":8,"j":45,"d":19.3},{"i":9,"j":45,"d":19.3},{"i":10,"j":45,"d":16.8},{"i":36,"j":45,"d":18},{"i":37,"j":45,"d":18},{"i":39,"j":45,"d":10.4},{"i":40,"j":45,"d":9.1},{"i":41,"j":45,"d":9.1},{"i":42,"j":45,"d":10.4},{"i":43,"j":45,"d":7.8},{"i":44,"j":45,"d":1.4},{"i":45,"j":45,"d":1.4},{"i":46,"j":45,"d":1.4},{"i":47,"j":45,"d":7.8},{"i":48,"j":45,"d":10.4},{"i":49,"j":45,"d":12.9},{"i":57,"j":45,"d":19.3},{"i":58,"j":45,"d":19.3},{"i":59,"j":45,"d":19.3},{"i":60,"j":45,"d":19.3},{"i":62,"j":45,"d":18},
{"i":8,"j":46,"d":18},{"i":9,"j":46,"d":14.2},{"i":10,"j":46,"d":18},{"i":39,"j":46,"d":15.5},{"i":40,"j":46,"d":7.8},{"i":41,"j":46,"d":10.4},{"i":42,"j":46,"d":11.6},{"i":43,"j":46,"d":10.4},{"i":44,"j":46,"d":7.8},{"i":45,"j":46,"d":1.4},{"i":46,"j":46,"d":1.4},{"i":47,"j":46,"d":1.4},{"i":48,"j":46,"d":7.8},{"i":49,"j":46,"d":10.4},{"i":50,"j":46,"d":15.5},{"i":51,"j":46,"d":14.2},{"i":52,"j":46,"d":16.8},{"i":58,"j":46,"d":18},{"i":62,"j":46,"d":18},
{"i":4,"j":47,"d":16.8},{"i":6,"j":47,"d":15.5},{"i":8,"j":47,"d":16.8},{"i":9,"j":47,"d":11.6},{"i":10,"j":47,"d":18},{"i":36,"j":47,"d":19.3},{"i":38,"j":47,"d":15.5},{"i":39,"j":47,"d":15.5},{"i":40,"j":47,"d":6.5},{"i":41,"j":47,"d":10.4},{"i":42,"j":47,"d":10.4},{"i":45,"j":47,"d":7.8},{"i":46,"j":47,"d":1.4},{"i":47,"j":47,"d":1.4},{"i":48,"j":47,"d":1.4},{"i":49,"j":47,"d":7.8},{"i":50,"j":47,"d":10.4},{"i":51,"j":47,"d":12.9},{"i":52,"j":47,"d":15.5},{"i":53,"j":47,"d":12.9},{"i":54,"j":47,"d":12.9},{"i":58,"j":47,"d":16.8},{"i":59,"j":47,"d":19.3},{"i":60,"j":47,"d":19.3},{"i":61,"j":47,"d":19.3},{"i":62,"j":47,"d":19.3},
{"i":6,"j":48,"d":15.5},{"i":8,"j":48,"d":15.5},{"i":9,"j":48,"d":11.6},{"i":10,"j":48,"d":12.9},{"i":21,"j":48,"d":11.6},{"i":22,"j":48,"d":11.6},{"i":40,"j":48,"d":10.4},{"i":41,"j":48,"d":11.6},{"i":44,"j":48,"d":10.4},{"i":45,"j":48,"d":10.4},{"i":46,"j":48,"d":7.8},{"i":47,"j":48,"d":1.4},{"i":48,"j":48,"d":1.4},{"i":49,"j":48,"d":1.4},{"i":50,"j":48,"d":7.8},{"i":51,"j":48,"d":10.4},{"i":52,"j":48,"d":12.9},{"i":53,"j":48,"d":10.4},{"i":55,"j":48,"d":14.2},{"i":56,"j":48,"d":19.3},{"i":57,"j":48,"d":19.3},{"i":58,"j":48,"d":19.3},{"i":59,"j":48,"d":19.3},{"i":60,"j":48,"d":19.3},{"i":61,"j":48,"d":19.3},{"i":62,"j":48,"d":19.3},
{"i":3,"j":49,"d":16.8},{"i":6,"j":49,"d":11.6},{"i":8,"j":49,"d":9.1},{"i":20,"j":49,"d":16.8},{"i":38,"j":49,"d":7.8},{"i":39,"j":49,"d":5.2},{"i":40,"j":49,"d":10.4},{"i":41,"j":49,"d":10.4},{"i":44,"j":49,"d":10.4},{"i":45,"j":49,"d":11.6},{"i":46,"j":49,"d":10.4},{"i":47,"j":49,"d":7.8},{"i":48,"j":49,"d":1.4},{"i":49,"j":49,"d":1.4},{"i":50,"j":49,"d":1.4},{"i":51,"j":49,"d":7.8},{"i":53,"j":49,"d":12.9},{"i":54,"j":49,"d":10.4},{"i":55,"j":49,"d":10.4},{"i":56,"j":49,"d":19.3},{"i":57,"j":49,"d":12.9},{"i":58,"j":49,"d":15.5},{"i":59,"j":49,"d":15.5},{"i":60,"j":49,"d":19.3},{"i":61,"j":49,"d":19.3},{"i":62,"j":49,"d":19.3},
{"i":6,"j":50,"d":15.5},{"i":8,"j":50,"d":14.2},{"i":39,"j":50,"d":10.4},{"i":41,"j":50,"d":14.2},{"i":42,"j":50,"d":14.2},{"i":43,"j":50,"d":14.2},{"i":44,"j":50,"d":14.2},{"i":46,"j":50,"d":14.2},{"i":47,"j":50,"d":10.4},{"i":48,"j":50,"d":7.8},{"i":49,"j":50,"d":1.4},{"i":50,"j":50,"d":1.4},{"i":51,"j":50,"d":1.4},{"i":52,"j":50,"d":7.8},{"i":55,"j":50,"d":16.8},{"i":56,"j":50,"d":19.3},{"i":58,"j":50,"d":11.6},{"i":59,"j":50,"d":15.5},{"i":60,"j":50,"d":15.5},{"i":61,"j":50,"d":16.8},{"i":62,"j":50,"d":19.3},
{"i":6,"j":51,"d":12.9},{"i":23,"j":51,"d":9.1},{"i":32,"j":51,"d":10.4},{"i":36,"j":51,"d":12.9},{"i":37,"j":51,"d":4},{"i":38,"j":51,"d":10.4},{"i":39,"j":51,"d":10.4},{"i":40,"j":51,"d":10.4},{"i":41,"j":51,"d":10.4},{"i":42,"j":51,"d":15.5},{"i":43,"j":51,"d":11.6},{"i":44,"j":51,"d":14.2},{"i":46,"j":51,"d":14.2},{"i":47,"j":51,"d":12.9},{"i":48,"j":51,"d":10.4},{"i":49,"j":51,"d":7.8},{"i":50,"j":51,"d":1.4},{"i":51,"j":51,"d":1.4},{"i":52,"j":51,"d":1.4},{"i":53,"j":51,"d":7.8},{"i":54,"j":51,"d":5.2},{"i":56,"j":51,"d":10.4},{"i":57,"j":51,"d":10.4},{"i":58,"j":51,"d":10.4},{"i":59,"j":51,"d":12.9},{"i":60,"j":51,"d":15.5},{"i":61,"j":51,"d":15.5},{"i":63,"j":51,"d":19.3},{"i":64,"j":51,"d":19.3},
{"i":21,"j":52,"d":11.6},{"i":23,"j":52,"d":10.4},{"i":24,"j":52,"d":9.1},{"i":25,"j":52,"d":14.2},{"i":37,"j":52,"d":10.4},{"i":39,"j":52,"d":11.6},{"i":40,"j":52,"d":14.2},{"i":44,"j":52,"d":14.2},{"i":46,"j":52,"d":16.8},{"i":47,"j":52,"d":15.5},{"i":48,"j":52,"d":12.9},{"i":50,"j":52,"d":7.8},{"i":51,"j":52,"d":1.4},{"i":52,"j":52,"d":1.4},{"i":53,"j":52,"d":1.4},{"i":54,"j":52,"d":7.8},{"i":55,"j":52,"d":10.4},{"i":57,"j":52,"d":10.4},{"i":58,"j":52,"d":11.6},{"i":59,"j":52,"d":10.4},{"i":60,"j":52,"d":12.9},{"i":61,"j":52,"d":15.5},{"i":62,"j":52,"d":15.5},{"i":64,"j":52,"d":19.3},
{"i":6,"j":53,"d":12.9},{"i":7,"j":53,"d":10.4},{"i":20,"j":53,"d":11.6},{"i":24,"j":53,"d":11.6},{"i":37,"j":53,"d":10.4},{"i":38,"j":53,"d":15.5},{"i":39,"j":53,"d":10.4},{"i":40,"j":53,"d":14.2},{"i":41,"j":53,"d":14.2},{"i":47,"j":53,"d":12.9},{"i":48,"j":53,"d":10.4},{"i":49,"j":53,"d":12.9},{"i":51,"j":53,"d":7.8},{"i":52,"j":53,"d":1.4},{"i":53,"j":53,"d":1.4},{"i":54,"j":53,"d":1.4},{"i":55,"j":53,"d":7.8},{"i":58,"j":53,"d":10.4},{"i":59,"j":53,"d":10.4},{"i":60,"j":53,"d":10.4},{"i":61,"j":53,"d":14.2},{"i":62,"j":53,"d":15.5},{"i":63,"j":53,"d":14.2},{"i":64,"j":53,"d":19.3},{"i":65,"j":53,"d":19.3},
{"i":5,"j":54,"d":12.9},{"i":6,"j":54,"d":10.4},{"i":14,"j":54,"d":16.8},{"i":16,"j":54,"d":19.3},{"i":19,"j":54,"d":16.8},{"i":21,"j":54,"d":11.6},{"i":24,"j":54,"d":7.8},{"i":25,"j":54,"d":10.4},{"i":32,"j":54,"d":10.4},{"i":37,"j":54,"d":10.4},{"i":38,"j":54,"d":10.4},{"i":39,"j":54,"d":10.4},{"i":40,"j":54,"d":12.9},{"i":41,"j":54,"d":14.2},{"i":47,"j":54,"d":12.9},{"i":49,"j":54,"d":10.4},{"i":51,"j":54,"d":5.2},{"i":52,"j":54,"d":7.8},{"i":53,"j":54,"d":1.4},{"i":54,"j":54,"d":1.4},{"i":55,"j":54,"d":1.4},{"i":56,"j":54,"d":7.8},{"i":58,"j":54,"d":6.5},{"i":59,"j":54,"d":5.2},{"i":60,"j":54,"d":10.4},{"i":61,"j":54,"d":10.4},{"i":62,"j":54,"d":7.8},{"i":63,"j":54,"d":14.2},{"i":64,"j":54,"d":14.2},{"i":65,"j":54,"d":15.5},{"i":66,"j":54,"d":19.3},
{"i":7,"j":55,"d":6.5},{"i":9,"j":55,"d":7.8},{"i":32,"j":55,"d":10.4},{"i":37,"j":55,"d":10.4},{"i":39,"j":55,"d":11.6},{"i":40,"j":55,"d":14.2},{"i":43,"j":55,"d":18},{"i":48,"j":55,"d":12.9},{"i":49,"j":55,"d":10.4},{"i":50,"j":55,"d":18},{"i":52,"j":55,"d":10.4},{"i":53,"j":55,"d":7.8},{"i":54,"j":55,"d":1.4},{"i":55,"j":55,"d":1.4},{"i":56,"j":55,"d":1.4},{"i":57,"j":55,"d":7.8},{"i":58,"j":55,"d":5.2},{"i":59,"j":55,"d":7.8},{"i":60,"j":55,"d":10.4},{"i":61,"j":55,"d":10.4},{"i":62,"j":55,"d":10.4},{"i":63,"j":55,"d":12.9},{"i":64,"j":55,"d":15.5},{"i":65,"j":55,"d":15.5},{"i":67,"j":55,"d":18},
{"i":10,"j":56,"d":11.6},{"i":39,"j":56,"d":12.9},{"i":43,"j":56,"d":19.3},{"i":44,"j":56,"d":19.3},{"i":48,"j":56,"d":19.3},{"i":49,"j":56,"d":19.3},{"i":50,"j":56,"d":19.3},{"i":51,"j":56,"d":10.4},{"i":54,"j":56,"d":7.8},{"i":55,"j":56,"d":1.4},{"i":56,"j":56,"d":1.4},{"i":57,"j":56,"d":1.4},{"i":58,"j":56,"d":7.8},{"i":59,"j":56,"d":6.5},{"i":60,"j":56,"d":6.5},{"i":61,"j":56,"d":10.4},{"i":62,"j":56,"d":10.4},{"i":63,"j":56,"d":10.4},{"i":64,"j":56,"d":11.6},{"i":65,"j":56,"d":15.5},{"i":66,"j":56,"d":15.5},{"i":68,"j":56,"d":19.3},
{"i":7,"j":57,"d":7.8},{"i":9,"j":57,"d":10.4},{"i":10,"j":57,"d":15.5},{"i":18,"j":57,"d":18},{"i":21,"j":57,"d":18},{"i":23,"j":57,"d":12.9},{"i":37,"j":57,"d":14.2},{"i":39,"j":57,"d":14.2},{"i":42,"j":57,"d":15.5},{"i":45,"j":57,"d":19.3},{"i":48,"j":57,"d":19.3},{"i":49,"j":57,"d":11.6},{"i":51,"j":57,"d":10.4},{"i":52,"j":57,"d":10.4},{"i":55,"j":57,"d":7.8},{"i":56,"j":57,"d":1.4},{"i":57,"j":57,"d":1.4},{"i":58,"j":57,"d":1.4},{"i":59,"j":57,"d":6.5},{"i":60,"j":57,"d":5.2},{"i":62,"j":57,"d":10.4},{"i":63,"j":57,"d":10.4},{"i":64,"j":57,"d":10.4},{"i":65,"j":57,"d":11.6},{"i":66,"j":57,"d":14.2},
{"i":7,"j":58,"d":6.5},{"i":8,"j":58,"d":11.6},{"i":14,"j":58,"d":18},{"i":32,"j":58,"d":9.1},{"i":33,"j":58,"d":16.8},{"i":37,"j":58,"d":10.4},{"i":39,"j":58,"d":12.9},{"i":42,"j":58,"d":14.2},{"i":43,"j":58,"d":14.2},{"i":44,"j":58,"d":18},{"i":45,"j":58,"d":19.3},{"i":46,"j":58,"d":19.3},{"i":47,"j":58,"d":16.8},{"i":48,"j":58,"d":19.3},{"i":49,"j":58,"d":15.5},{"i":50,"j":58,"d":12.9},{"i":51,"j":58,"d":11.6},{"i":52,"j":58,"d":11.6},{"i":53,"j":58,"d":10.4},{"i":54,"j":58,"d":6.5},{"i":55,"j":58,"d":5.2},{"i":56,"j":58,"d":7.8},{"i":57,"j":58,"d":1.4},{"i":58,"j":58,"d":1.4},{"i":59,"j":58,"d":1.4},{"i":60,"j":58,"d":7.8},{"i":63,"j":58,"d":10.4},{"i":64,"j":58,"d":10.4},{"i":65,"j":58,"d":11.6},{"i":66,"j":58,"d":12.9},{"i":68,"j":58,"d":14.2},
{"i":25,"j":59,"d":12.9},{"i":27,"j":59,"d":14.2},{"i":29,"j":59,"d":19.3},{"i":33,"j":59,"d":16.8},{"i":37,"j":59,"d":10.4},{"i":39,"j":59,"d":11.6},{"i":41,"j":59,"d":14.2},{"i":42,"j":59,"d":18},{"i":45,"j":59,"d":19.3},{"i":47,"j":59,"d":19.3},{"i":48,"j":59,"d":19.3},{"i":49,"j":59,"d":16.8},{"i":50,"j":59,"d":16.8},{"i":51,"j":59,"d":12.9},{"i":52,"j":59,"d":10.4},{"i":53,"j":59,"d":10.4},{"i":54,"j":59,"d":5.2},{"i":55,"j":59,"d":7.8},{"i":56,"j":59,"d":6.5},{"i":57,"j":59,"d":6.5},{"i":58,"j":59,"d":1.4},{"i":59,"j":59,"d":1.4},{"i":60,"j":59,"d":1.4},{"i":61,"j":59,"d":6.5},{"i":64,"j":59,"d":7.8},{"i":65,"j":59,"d":10.4},{"i":66,"j":59,"d":10.4},{"i":67,"j":59,"d":14.2},
{"i":19,"j":60,"d":14.2},{"i":21,"j":60,"d":18},{"i":23,"j":60,"d":18},{"i":25,"j":60,"d":18},{"i":27,"j":60,"d":19.3},{"i":28,"j":60,"d":19.3},{"i":29,"j":60,"d":19.3},{"i":31,"j":60,"d":19.3},{"i":32,"j":60,"d":19.3},{"i":33,"j":60,"d":19.3},{"i":34,"j":60,"d":19.3},{"i":40,"j":60,"d":15.5},{"i":45,"j":60,"d":19.3},{"i":47,"j":60,"d":19.3},{"i":48,"j":60,"d":19.3},{"i":49,"j":60,"d":19.3},{"i":50,"j":60,"d":16.8},{"i":51,"j":60,"d":16.8},{"i":52,"j":60,"d":12.9},{"i":53,"j":60,"d":10.4},{"i":54,"j":60,"d":10.4},{"i":55,"j":60,"d":10.4},{"i":56,"j":60,"d":6.5},{"i":57,"j":60,"d":5.2},{"i":58,"j":60,"d":7.8},{"i":59,"j":60,"d":1.4},{"i":60,"j":60,"d":1.4},{"i":61,"j":60,"d":1.4},{"i":62,"j":60,"d":7.8},{"i":65,"j":60,"d":10.4},{"i":66,"j":60,"d":10.4},
{"i":10,"j":61,"d":15.5},{"i":12,"j":61,"d":18},{"i":19,"j":61,"d":18},{"i":21,"j":61,"d":15.5},{"i":28,"j":61,"d":19.3},{"i":29,"j":61,"d":19.3},{"i":30,"j":61,"d":19.3},{"i":31,"j":61,"d":19.3},{"i":33,"j":61,"d":19.3},{"i":47,"j":61,"d":19.3},{"i":48,"j":61,"d":19.3},{"i":49,"j":61,"d":19.3},{"i":50,"j":61,"d":18},{"i":51,"j":61,"d":15.5},{"i":52,"j":61,"d":15.5},{"i":53,"j":61,"d":15.5},{"i":54,"j":61,"d":10.4},{"i":55,"j":61,"d":10.4},{"i":56,"j":61,"d":10.4},{"i":59,"j":61,"d":6.5},{"i":60,"j":61,"d":1.4},{"i":61,"j":61,"d":1.4},{"i":62,"j":61,"d":1.4},{"i":63,"j":61,"d":7.8},{"i":66,"j":61,"d":10.4},{"i":67,"j":61,"d":14.2},
{"i":12,"j":62,"d":18},{"i":14,"j":62,"d":18},{"i":19,"j":62,"d":18},{"i":21,"j":62,"d":18},{"i":27,"j":62,"d":12.9},{"i":29,"j":62,"d":19.3},{"i":43,"j":62,"d":19.3},{"i":44,"j":62,"d":19.3},{"i":45,"j":62,"d":19.3},{"i":46,"j":62,"d":19.3},{"i":47,"j":62,"d":19.3},{"i":48,"j":62,"d":19.3},{"i":49,"j":62,"d":19.3},{"i":50,"j":62,"d":19.3},{"i":52,"j":62,"d":15.5},{"i":53,"j":62,"d":15.5},{"i":54,"j":62,"d":7.8},{"i":55,"j":62,"d":10.4},{"i":56,"j":62,"d":10.4},{"i":57,"j":62,"d":10.4},{"i":60,"j":62,"d":7.8},{"i":61,"j":62,"d":1.4},{"i":62,"j":62,"d":1.4},{"i":63,"j":62,"d":1.4},{"i":64,"j":62,"d":7.8},{"i":67,"j":62,"d":10.4},{"i":68,"j":62,"d":12.9},
{"i":10,"j":63,"d":18},{"i":21,"j":63,"d":18},{"i":29,"j":63,"d":19.3},{"i":38,"j":63,"d":14.2},{"i":43,"j":63,"d":19.3},{"i":51,"j":63,"d":19.3},{"i":53,"j":63,"d":14.2},{"i":54,"j":63,"d":14.2},{"i":55,"j":63,"d":12.9},{"i":56,"j":63,"d":10.4},{"i":57,"j":63,"d":10.4},{"i":58,"j":63,"d":10.4},{"i":61,"j":63,"d":7.8},{"i":62,"j":63,"d":1.4},{"i":63,"j":63,"d":1.4},{"i":64,"j":63,"d":1.4},{"i":65,"j":63,"d":6.5},{"i":66,"j":63,"d":10.4},{"i":68,"j":63,"d":12.9},{"i":69,"j":63,"d":12.9},
{"i":8,"j":64,"d":18},{"i":10,"j":64,"d":18},{"i":27,"j":64,"d":18},{"i":28,"j":64,"d":18},{"i":29,"j":64,"d":18},{"i":38,"j":64,"d":19.3},{"i":39,"j":64,"d":16.8},{"i":51,"j":64,"d":19.3},{"i":52,"j":64,"d":19.3},{"i":53,"j":64,"d":19.3},{"i":54,"j":64,"d":15.5},{"i":55,"j":64,"d":15.5},{"i":56,"j":64,"d":12.9},{"i":57,"j":64,"d":10.4},{"i":58,"j":64,"d":10.4},{"i":59,"j":64,"d":7.8},{"i":62,"j":64,"d":7.8},{"i":63,"j":64,"d":1.4},{"i":64,"j":64,"d":1.4},{"i":65,"j":64,"d":1.4},{"i":66,"j":64,"d":7.8},{"i":67,"j":64,"d":10.4},{"i":68,"j":64,"d":12.9},{"i":69,"j":64,"d":15.5},
{"i":53,"j":65,"d":19.3},{"i":54,"j":65,"d":16.8},{"i":55,"j":65,"d":15.5},{"i":56,"j":65,"d":15.5},{"i":57,"j":65,"d":12.9},{"i":58,"j":65,"d":11.6},{"i":59,"j":65,"d":10.4},{"i":60,"j":65,"d":10.4},{"i":63,"j":65,"d":6.5},{"i":64,"j":65,"d":1.4},{"i":65,"j":65,"d":1.4},{"i":66,"j":65,"d":1.4},{"i":67,"j":65,"d":7.8},{"i":68,"j":65,"d":10.4},{"i":69,"j":65,"d":11.6},
{"i":54,"j":66,"d":19.3},{"i":56,"j":66,"d":15.5},{"i":57,"j":66,"d":15.5},{"i":58,"j":66,"d":12.9},{"i":59,"j":66,"d":10.4},{"i":60,"j":66,"d":10.4},{"i":61,"j":66,"d":10.4},{"i":63,"j":66,"d":10.4},{"i":64,"j":66,"d":7.8},{"i":65,"j":66,"d":1.4},{"i":66,"j":66,"d":1.4},{"i":67,"j":66,"d":1.4},{"i":68,"j":66,"d":7.8},{"i":69,"j":66,"d":9.1},
{"i":55,"j":67,"d":18},{"i":59,"j":67,"d":15.5},{"i":61,"j":67,"d":14.2},{"i":62,"j":67,"d":10.4},{"i":64,"j":67,"d":10.4},{"i":65,"j":67,"d":7.8},{"i":66,"j":67,"d":1.4},{"i":67,"j":67,"d":1.4},{"i":68,"j":67,"d":1.4},{"i":69,"j":67,"d":6.5},
{"i":56,"j":68,"d":18},{"i":58,"j":68,"d":14.2},{"i":62,"j":68,"d":14.2},{"i":63,"j":68,"d":14.2},{"i":64,"j":68,"d":12.9},{"i":65,"j":68,"d":10.4},{"i":66,"j":68,"d":7.8},{"i":67,"j":68,"d":1.4},{"i":68,"j":68,"d":1.4},{"i":69,"j":68,"d":1.4},
{"i":63,"j":69,"d":14.2},{"i":64,"j":69,"d":15.5},{"i":65,"j":69,"d":12.9},{"i":66,"j":69,"d":9.1},{"i":67,"j":69,"d":6.5},{"i":68,"j":69,"d":1.4},{"i":69,"j":69,"d":1.4}
],"bands":[{"lo":0.74,"hi":2.02,"d":1.4},{"lo":2.02,"hi":3.31,"d":2.7},{"lo":3.31,"hi":4.59,"d":4},{"lo":4.59,"hi":5.87,"d":5.2},{"lo":5.87,"hi":7.16,"d":6.5},{"lo":7.16,"hi":8.44,"d":7.8},{"lo":8.44,"hi":9.72,"d":9.1},{"lo":9.72,"hi":11,"d":10.4},{"lo":11,"hi":12.29,"d":11.6},{"lo":12.29,"hi":13.57,"d":12.9},{"lo":13.57,"hi":14.85,"d":14.2},{"lo":14.85,"hi":16.13,"d":15.5},{"lo":16.13,"hi":17.42,"d":16.8},{"lo":17.42,"hi":18.7,"d":18},{"lo":18.7,"hi":20,"d":19.3},{"lo":20,"hi":21.27,"d":20.6}]},
"hconcat":[
{"width":1697,"height":1696,"view":{"fill":"#0000ff","stroke":null},"resolve":{"axis":{"x":"independent","y":"independent"}},
"layer":[
{"data":{"name":"cells"},"mark":{"type":"rect","strokeWidth":0.5},
"encoding":{
"x":{"field":"i","type":"ordinal","scale":{"domain":[1,2,3,4,5,6,7,8,9,10,11,12,13,14,15,16,17,18,19,20,21,22,23,24,25,26,27,28,29,30,31,32,33,34,35,36,37,38,39,40,41,42,43,44,45,46,47,48,49,50,51,52,53,54,55,56,57,58,59,60,61,62,63,64,65,66,67,68,69],"paddingInner":0,"paddingOuter":0},"axis":{"values":[10,20,30,40,50,60],"labelAngle":0,"labelFontSize":60,"titleFontSize":60,"title":"Residue index","tickSize":5,"tickColor":"#777","domainColor":"#777","labelPadding":3,"titlePadding":0}},
"y":{"field":"j","type":"ordinal","scale":{"domain":[69,68,67,66,65,64,63,62,61,60,59,58,57,56,55,54,53,52,51,50,49,48,47,46,45,44,43,42,41,40,39,38,37,36,35,34,33,32,31,30,29,28,27,26,25,24,23,22,21,20,19,18,17,16,15,14,13,12,11,10,9,8,7,6,5,4,3,2,1],"paddingInner":0,"paddingOuter":0},"axis":{"values":[10,20,30,40,50,60],"labelFontSize":60,"titleFontSize":60,"title":"Residue index","tickSize":5,"tickColor":"#777","domainColor":"#777","labelPadding":3,"titlePadding":0}},
"color":{"field":"d","type":"quantitative","legend":null,"scale":{"type":"threshold","domain":[2.02,3.31,4.59,5.87,7.16,8.44,9.72,11,12.29,13.57,14.85,16.13,17.42,18.7,20],"range":["#ff0000","#ff2200","#ff4400","#ff6600","#ff8800","#ffaa00","#a8c080","#9eb987","#93b28f","#89ab96","#7fa49d","#749da5","#6a96ac","#5f8fb4","#5588bb","#0000ff"]}},
"stroke":{"field":"d","type":"quantitative","legend":null,"scale":{"type":"threshold","domain":[2.02,3.31,4.59,5.87,7.16,8.44,9.72,11,12.29,13.57,14.85,16.13,17.42,18.7,20],"range":["#ff0000","#ff2200","#ff4400","#ff6600","#ff8800","#ffaa00","#a8c080","#9eb987","#93b28f","#89ab96","#7fa49d","#749da5","#6a96ac","#5f8fb4","#5588bb","#0000ff"]}}
}},
{"data":{"values":[{"i":1,"j":1}]},"mark":{"type":"rect","opacity":0},
"encoding":{
"x":{"field":"i","type":"ordinal","scale":{"domain":[1,2,3,4,5,6,7,8,9,10,11,12,13,14,15,16,17,18,19,20,21,22,23,24,25,26,27,28,29,30,31,32,33,34,35,36,37,38,39,40,41,42,43,44,45,46,47,48,49,50,51,52,53,54,55,56,57,58,59,60,61,62,63,64,65,66,67,68,69],"paddingInner":0,"paddingOuter":0},"axis":{"orient":"top","values":[10,20,30,40,50,60],"labels":false,"title":null,"tickSize":5,"tickColor":"#333","domainColor":"#333"}},
"y":{"field":"j","type":"ordinal","scale":{"domain":[69,68,67,66,65,64,63,62,61,60,59,58,57,56,55,54,53,52,51,50,49,48,47,46,45,44,43,42,41,40,39,38,37,36,35,34,33,32,31,30,29,28,27,26,25,24,23,22,21,20,19,18,17,16,15,14,13,12,11,10,9,8,7,6,5,4,3,2,1],"paddingInner":0,"paddingOuter":0},"axis":{"orient":"right","values":[10,20,30,40,50,60],"labels":false,"title":null,"tickSize":5,"tickColor":"#777","domainColor":"#777"}}
}}
]},
{"width":14,"height":1696,"view":{"stroke":"#555"},"data":{"name":"bands"},"mark":{"type":"rect","strokeWidth":0},
"encoding":{
"y":{"field":"lo","type":"quantitative","scale":{"domain":[0.74,21.27],"nice":false,"zero":false},"axis":{"orient":"right","values":[5,10,15,20],"labelFontSize":49,"title":null,"tickSize":5,"tickColor":"#333","domain":false,"labelPadding":3,"grid":false}},
"y2":{"field":"hi"},
"color":{"field":"d","type":"quantitative","legend":null,"scale":{"type":"threshold","domain":[2.02,3.31,4.59,5.87,7.16,8.44,9.72,11,12.29,13.57,14.85,16.13,17.42,18.7,20],"range":["#ff0000","#ff2200","#ff4400","#ff6600","#ff8800","#ffaa00","#a8c080","#9eb987","#93b28f","#89ab96","#7fa49d","#749da5","#6a96ac","#5f8fb4","#5588bb","#0000ff"]}}
}}
]}
